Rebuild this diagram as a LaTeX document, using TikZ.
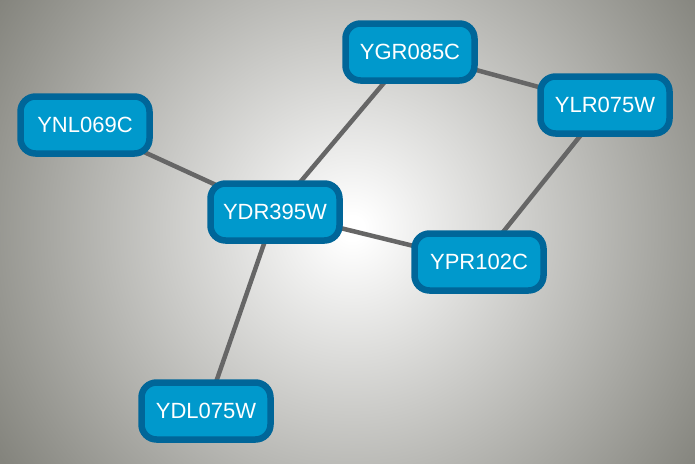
\documentclass[tikz,border=0pt]{standalone}
\usepackage{fontspec}
\setmainfont{Liberation Sans}
\usetikzlibrary{calc}

\definecolor{genefill}{RGB}{0,153,204}
\definecolor{geneline}{RGB}{0,102,153}
\definecolor{linkgray}{RGB}{102,102,102}
\definecolor{bgedge}{RGB}{132,132,125}

% half side of the square (600pt) <-> 25bp, so 17.5bp is about 420pt
\pgfdeclareradialshading{bgshade}{\pgfpoint{0bp}{0bp}}{%
  color(0bp)=(white); color(0.5bp)=(white);
  color(17.5bp)=(bgedge); color(50bp)=(bgedge)}
\pgfdeclarelayer{bg}
\pgfdeclarelayer{links}
\pgfsetlayers{bg,links,main}

\begin{document}
\begin{tikzpicture}[
  x=1pt, y=-1pt,
  gene/.style={draw=geneline, fill=genefill, line width=6.5pt, rounded corners=15pt,
               minimum width=129pt, minimum height=57pt, text=white, inner sep=0pt,
               font=\fontsize{22}{26}\selectfont},
  link/.style={linkgray, line width=4.5pt},
]
\begin{pgfonlayer}{bg}
  \clip (0,0) rectangle (695,463);
  \shade[shading=bgshade] (-248,-372) rectangle (952,828);
\end{pgfonlayer}
\useasboundingbox (0,0) rectangle (695,463);

\node[gene] (YGR) at (410,52)  {YGR085C};
\node[gene] (YLR) at (605,105) {YLR075W};
\node[gene] (YNL) at (85,125)  {YNL069C};
\node[gene] (YDR) at (275,212) {YDR395W};
\node[gene] (YPR) at (479,262) {YPR102C};
\node[gene] (YDL) at (206,411) {YDL075W};

\begin{pgfonlayer}{links}
  \draw[link] (YGR.center) -- (YLR.center);
  \draw[link] (YGR.center) -- (YDR.center);
  \draw[link] (YNL.center) -- (YDR.center);
  \draw[link] (YDR.center) -- (YPR.center);
  \draw[link] (YPR.center) -- (YLR.center);
  \draw[link] (YDR.center) -- (YDL.center);
\end{pgfonlayer}
\end{tikzpicture}
\end{document}
